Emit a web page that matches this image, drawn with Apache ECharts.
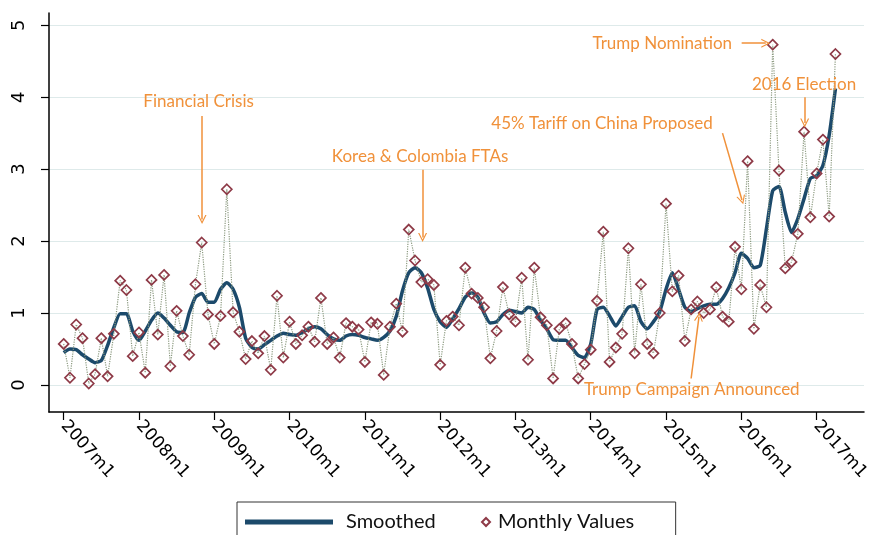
<!DOCTYPE html>
<html>
<head>
<meta charset="utf-8">
<script src="https://cdn.jsdelivr.net/npm/echarts@6/dist/echarts.min.js"></script>
<style>
html, body { margin: 0; padding: 0; background: #fff; }
#chart { width: 871px; height: 535px; }
</style>
</head>
<body>
<div id="chart"></div>
<script>
// month index 0 = 2007m1, last = 2017m4
const monthlyValues = [
  0.57, 0.10, 0.84, 0.65, 0.02, 0.15, 0.65, 0.12, 0.71, 1.45,
  1.32, 0.40, 0.73, 0.17, 1.46, 0.70, 1.53, 0.26, 1.03, 0.68,
  0.42, 1.40, 1.98, 0.98, 0.57, 0.96, 2.72, 1.01, 0.74, 0.36,
  0.61, 0.44, 0.68, 0.21, 1.24, 0.38, 0.88, 0.57, 0.69, 0.81,
  0.60, 1.21, 0.57, 0.66, 0.38, 0.86, 0.81, 0.77, 0.32, 0.87,
  0.85, 0.14, 0.81, 1.13, 0.74, 2.16, 1.73, 1.43, 1.47, 1.39,
  0.28, 0.89, 0.95, 0.83, 1.63, 1.27, 1.21, 1.08, 0.37, 0.75,
  1.36, 0.98, 0.88, 1.49, 0.35, 1.63, 0.94, 0.83, 0.09, 0.78,
  0.86, 0.57, 0.09, 0.29, 0.49, 1.17, 2.13, 0.32, 0.52, 0.71,
  1.90, 0.44, 1.40, 0.57, 0.44, 1.00, 2.52, 1.30, 1.52, 0.61,
  1.05, 1.16, 1.00, 1.05, 1.36, 0.95, 0.88, 1.92, 1.33, 3.11,
  0.78, 1.39, 1.08, 4.73, 2.98, 1.62, 1.71, 2.10, 3.52, 2.33,
  2.94, 3.41, 2.34, 4.60
];
const smoothedValues = [
  0.45, 0.50, 0.49, 0.42, 0.36, 0.31, 0.34, 0.55, 0.80, 0.99,
  0.99, 0.75, 0.62, 0.75, 0.90, 1.00, 0.93, 0.83, 0.74, 0.73,
  1.00, 1.22, 1.27, 1.15, 1.15, 1.33, 1.42, 1.33, 1.08, 0.65,
  0.52, 0.50, 0.56, 0.62, 0.68, 0.72, 0.70, 0.69, 0.73, 0.78,
  0.81, 0.78, 0.70, 0.64, 0.62, 0.68, 0.70, 0.69, 0.66, 0.64,
  0.62, 0.66, 0.75, 0.95, 1.31, 1.56, 1.63, 1.56, 1.35, 1.05,
  0.88, 0.80, 0.92, 1.06, 1.22, 1.28, 1.22, 1.00, 0.86, 0.88,
  0.98, 1.04, 1.02, 1.00, 1.08, 1.05, 0.90, 0.78, 0.63, 0.62,
  0.62, 0.52, 0.41, 0.38, 0.57, 1.05, 1.08, 0.96, 0.82, 0.95,
  1.08, 1.10, 0.88, 0.78, 0.88, 1.02, 1.33, 1.56, 1.33, 1.08,
  1.02, 1.06, 1.10, 1.12, 1.12, 1.20, 1.35, 1.56, 1.83, 1.76,
  1.63, 1.66, 2.17, 2.70, 2.76, 2.40, 2.12, 2.31, 2.59, 2.87,
  2.91, 3.05, 3.47, 4.12
];
const tickMonths = [0, 12, 24, 36, 48, 60, 72, 84, 96, 108, 120];
const tickLabels = ['2007m1', '2008m1', '2009m1', '2010m1', '2011m1', '2012m1',
                    '2013m1', '2014m1', '2015m1', '2016m1', '2017m1'];
const yTicks = [0, 1, 2, 3, 4, 5];

// annotation text + arrow, in [month, value] coordinates
const notes = [
  { text: 'Financial Crisis', at: [21.5, 3.94], from: [22.05, 3.74], to: [22.05, 2.30] },
  { text: 'Korea & Colombia FTAs', at: [56.8, 3.18], from: [57.2, 2.99], to: [57.2, 2.05] },
  { text: '45% Tariff on China Proposed', at: [85.8, 3.63], from: [105.0, 3.50], to: [108.1, 2.57] },
  { text: 'Trump Nomination', at: [95.4, 4.75], from: [108.05, 4.75], to: [111.9, 4.75] },
  { text: '2016 Election', at: [118.0, 4.18], from: [118.1, 4.0], to: [118.1, 3.64] },
  { text: 'Trump Campaign Announced', at: [100.1, -0.07], from: [100.0, 0.09], to: [101.25, 0.95] }
];

const ORANGE = '#f0913a';
const chevron = 'path://M0,10 L5,0 L10,10 L8.6,10 L5,2.8 L1.4,10 Z';

const chart = echarts.init(document.getElementById('chart'));

const option = {
  animation: false,
  grid: { left: 49, right: 7, top: 13, bottom: 123, outerBoundsMode: 'none' },
  xAxis: {
    type: 'value',
    min: -2.34,
    max: 127.55,
    axisLine: { show: true, onZero: false, lineStyle: { color: '#000', width: 1.5 } },
    axisTick: { show: true, length: 8, customValues: tickMonths, lineStyle: { color: '#000', width: 1.2 } },
    axisLabel: {
      customValues: tickMonths,
      formatter: v => tickLabels[tickMonths.indexOf(Math.round(v))] || '',
      rotate: -48,
      margin: 11,
      color: '#000',
      fontSize: 17,
      fontFamily: 'DejaVu Sans'
    },
    splitLine: { show: false }
  },
  yAxis: {
    type: 'value',
    min: -0.376,
    max: 5.17,
    axisLine: { show: true, onZero: false, lineStyle: { color: '#000', width: 1.5 } },
    axisTick: { show: true, length: 8, customValues: yTicks, lineStyle: { color: '#000', width: 1.2 } },
    axisLabel: {
      customValues: yTicks,
      rotate: 90,
      margin: 21,
      color: '#000',
      fontSize: 18,
      fontFamily: 'DejaVu Sans'
    },
    splitLine: { show: true, lineStyle: { color: '#deeaea', width: 1.2 } }
  },
  legend: [
    {
      data: [{ name: 'Smoothed', icon: 'rect' }],
      left: 237,
      top: 502,
      orient: 'horizontal',
      itemWidth: 88,
      itemHeight: 5,
      padding: [10, 240, 16, 8],
      borderColor: '#333',
      borderWidth: 1,
      textStyle: { fontSize: 20, fontFamily: 'Lato', color: '#111', padding: [0, 0, 0, 8] }
    },
    {
      data: [{ name: 'Monthly Values', icon: 'diamond' }],
      left: 477,
      top: 502,
      itemWidth: 8,
      itemHeight: 8,
      padding: [10, 4, 16, 4],
      textStyle: { fontSize: 20, fontFamily: 'Lato', color: '#111', padding: [0, 0, 0, 3] }
    }
  ],
  series: [
    {
      name: 'Smoothed',
      type: 'line',
      data: smoothedValues.map((v, i) => [i, v]),
      symbol: 'none',
      smooth: 0.2,
      lineStyle: { color: '#1c4a6b', width: 3.5 },
      itemStyle: { color: '#1c4a6b' },
      z: 2
    },
    {
      name: 'Monthly Values',
      type: 'line',
      data: monthlyValues.map((v, i) => [i, v]),
      symbol: 'diamond',
      symbolSize: 10,
      showAllSymbol: true,
      lineStyle: { color: '#8c9a80', width: 1.2, type: 'dotted' },
      itemStyle: { color: 'rgba(255,255,255,0)', borderColor: '#8e3a47', borderWidth: 1.7 },
      z: 3,
      markLine: {
        silent: true,
        symbol: ['none', chevron],
        symbolSize: [9, 9],
        label: { show: false },
        lineStyle: { color: ORANGE, width: 1.5, type: 'solid' },
        data: notes.map(n => [{ coord: n.from }, { coord: n.to }])
      },
      markPoint: {
        silent: true,
        symbol: 'circle',
        symbolSize: 1,
        itemStyle: { color: 'rgba(0,0,0,0)', borderWidth: 0 },
        label: {
          show: true,
          position: 'inside',
          formatter: '{b}',
          color: ORANGE,
          fontSize: 17,
          fontFamily: 'Lato'
        },
        data: notes.map(n => ({ name: n.text, coord: n.at }))
      }
    }
  ]
};

chart.setOption(option);
</script>
</body>
</html>
